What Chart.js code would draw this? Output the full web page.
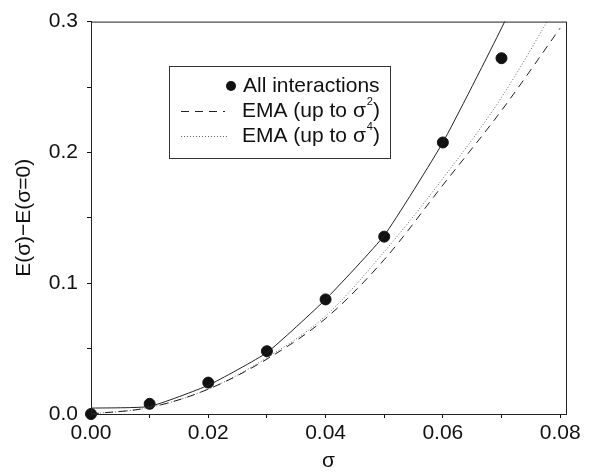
<!DOCTYPE html>
<html lang="en">
<head>
    <meta charset="UTF-8">
    <title>E(σ) vs σ</title>
    <script src="https://cdn.jsdelivr.net/npm/chart.js"></script>
    <style>
        body { margin: 0; background: #fff; }
        canvas { display: block; }
    </style>
</head>
<body>
    <canvas id="chart" width="589" height="472"></canvas>
    <script>
        // values
        const sigma = [0.00, 0.01, 0.02, 0.03, 0.04, 0.05, 0.06, 0.07, 0.08];
        const allInteractions = [0.000, 0.0078, 0.024, 0.048, 0.0876, 0.1356, 0.2076, 0.272];
        const fitLine = [0.0045, 0.0058, 0.022, 0.047, 0.0876, 0.1365, 0.2076, 0.295, 0.39];
        const emaSigma2 = [0.000, 0.005, 0.019, 0.042, 0.073, 0.118, 0.175, 0.232, 0.295];
        const emaSigma4 = [0.000, 0.005, 0.019, 0.043, 0.075, 0.124, 0.180, 0.242, 0.317];
        const legendLabels = ['All interactions', 'EMA (up to σ^2)', 'EMA (up to σ^4)'];
        const yTicks = [0.0, 0.1, 0.2, 0.3];
        const xTicks = [0.00, 0.02, 0.04, 0.06, 0.08];

        const FONT = '"Liberation Sans", Arial, Helvetica, sans-serif';
        const INK = '#111';

        function pts(ys) {
            return ys.map((y, i) => ({ x: sigma[i], y: y }));
        }

        // box around the plot + legend drawn by hand (superscripts)
        const framePlugin = {
            id: 'frame',
            afterDraw(chart) {
                const { ctx, chartArea: a } = chart;
                ctx.save();
                ctx.strokeStyle = '#222';
                ctx.lineWidth = 1;
                ctx.strokeRect(a.left + 0.5, a.top + 0.5, a.right - a.left, a.bottom - a.top);

                // legend
                const bx = 169, by = 66, bw = 221, bh = 92;
                ctx.fillStyle = '#fff';
                ctx.fillRect(bx, by, bw, bh);
                ctx.strokeStyle = '#333';
                ctx.strokeRect(bx + 0.5, by + 0.5, bw, bh);

                const rows = [86, 111, 136];
                const ds = chart.data.datasets;
                ctx.fillStyle = INK;
                ctx.beginPath();
                ctx.arc(231, rows[0], 5, 0, Math.PI * 2);
                ctx.fill();

                ctx.lineWidth = 1;
                ctx.strokeStyle = ds[0].borderColor;
                ctx.setLineDash(ds[0].borderDash);
                ctx.beginPath();
                ctx.moveTo(181, rows[1] + 0.5); ctx.lineTo(225, rows[1] + 0.5);
                ctx.stroke();
                ctx.strokeStyle = ds[1].borderColor;
                ctx.setLineDash(ds[1].borderDash);
                ctx.beginPath();
                ctx.moveTo(181, rows[2] + 0.5); ctx.lineTo(228, rows[2] + 0.5);
                ctx.stroke();
                ctx.setLineDash([]);

                ctx.textBaseline = 'middle';
                ctx.textAlign = 'left';
                legendLabels.forEach((lab, i) => {
                    const x = i === 0 ? 243 : 242;
                    const y = rows[i];
                    const parts = lab.split('^');
                    ctx.font = '21px ' + FONT;
                    ctx.fillText(parts[0], x, y);
                    if (parts.length > 1) {
                        let w = ctx.measureText(parts[0]).width;
                        ctx.font = '11px ' + FONT;
                        ctx.fillText(parts[1][0], x + w + 1, y - 9);
                        const sw = ctx.measureText(parts[1][0]).width;
                        ctx.font = '21px ' + FONT;
                        ctx.fillText(parts[1].slice(1), x + w + sw + 1, y);
                    }
                });
                ctx.restore();
            }
        };

        new Chart(document.getElementById('chart'), {
            type: 'scatter',
            data: {
                datasets: [{
                    label: legendLabels[1],
                    data: pts(emaSigma2),
                    showLine: true,
                    borderColor: '#222',
                    borderWidth: 1,
                    borderDash: [8, 6],
                    pointRadius: 0,
                    cubicInterpolationMode: 'monotone'
                }, {
                    label: legendLabels[2],
                    data: pts(emaSigma4),
                    showLine: true,
                    borderColor: '#666',
                    borderWidth: 1,
                    borderDash: [1, 2],
                    pointRadius: 0,
                    cubicInterpolationMode: 'monotone'
                }, {
                    label: 'fit',
                    data: pts(fitLine),
                    showLine: true,
                    borderColor: '#222',
                    borderWidth: 1,
                    pointRadius: 0,
                    tension: 0.15
                }, {
                    label: legendLabels[0],
                    data: pts(allInteractions),
                    showLine: false,
                    clip: false,
                    backgroundColor: INK,
                    borderColor: INK,
                    pointRadius: 5.5,
                    pointHoverRadius: 5.5
                }]
            },
            options: {
                responsive: false,
                animation: false,
                devicePixelRatio: 1,
                layout: { padding: { top: 18, right: 23, left: 0, bottom: 0 } },
                plugins: {
                    legend: { display: false },
                    tooltip: { enabled: false }
                },
                scales: {
                    x: {
                        type: 'linear',
                        min: 0,
                        max: 0.081,
                        afterFit(s) { s.height = 58; },
                        border: { display: true, color: INK, width: 1 },
                        grid: { drawOnChartArea: false, tickLength: 4, color: INK },
                        ticks: {
                            stepSize: 0.01,
                            includeBounds: false,
                            padding: 3,
                            color: INK,
                            font: { size: 21, family: FONT },
                            maxRotation: 0,
                            autoSkip: false,
                            callback: v => xTicks.some(t => Math.abs(t - v) < 1e-9) ? v.toFixed(2) : ''
                        },
                        title: {
                            display: true,
                            text: 'σ',
                            color: INK,
                            font: { size: 21, family: FONT },
                            padding: { top: 0, bottom: -2 }
                        }
                    },
                    y: {
                        type: 'linear',
                        min: 0,
                        max: 0.3,
                        afterFit(s) { s.width = 91; },
                        border: { display: true, color: INK, width: 1 },
                        grid: { drawOnChartArea: false, tickLength: 4, color: INK },
                        ticks: {
                            stepSize: 0.05,
                            padding: 9,
                            color: INK,
                            font: { size: 21, family: FONT },
                            autoSkip: false,
                            callback: v => yTicks.some(t => Math.abs(t - v) < 1e-9) ? v.toFixed(1) : ''
                        },
                        title: {
                            display: true,
                            text: 'E(σ)−E(σ=0)',
                            color: INK,
                            font: { size: 21, family: FONT },
                            padding: { top: 12, bottom: 0 }
                        }
                    }
                }
            },
            plugins: [framePlugin]
        });
    </script>
</body>
</html>
